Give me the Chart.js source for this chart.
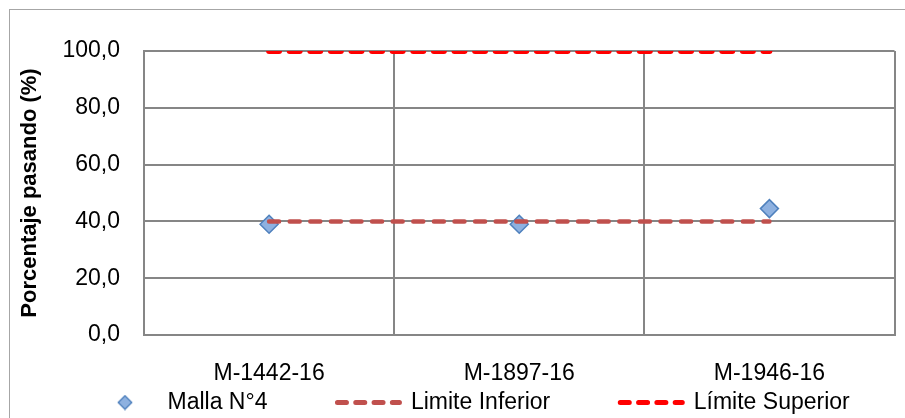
<!DOCTYPE html>
<html lang="es">
<head>
<meta charset="utf-8">
<title>Porcentaje pasando - Malla N°4</title>
<script src="https://cdn.jsdelivr.net/npm/chart.js@4.4.1/dist/chart.umd.min.js"></script>
<style>
  html, body { margin: 0; padding: 0; background: #ffffff; }
  #wrap { width: 905px; height: 418px; }
</style>
</head>
<body>
<div id="wrap"><canvas id="chart" width="905" height="418"></canvas></div>
<script>
// Muestras ensayadas
const categories = ['M-1442-16', 'M-1897-16', 'M-1946-16'];

// Porcentaje que pasa la malla N°4 en cada muestra
const mallaN4 = [39.0, 39.0, 44.5];

// Límites de especificación
const limiteInferior = [40, 40, 40];
const limiteSuperior = [100, 100, 100];

// Marcas del eje vertical
const yTickValues = [0, 20, 40, 60, 80, 100];

const seriesNames = ['Malla N°4', 'Limite Inferior', 'Límite Superior'];

const FONT_FAMILY = "'Liberation Sans', Arial, sans-serif";
const GRID_COLOR = '#868686';
const MARKER_FILL = '#8EB1E0';
const MARKER_EDGE = '#4F81BD';

Chart.defaults.font.family = FONT_FAMILY;
Chart.defaults.color = '#000000';

// Small diamond used as the legend symbol of the marker series
function diamondIcon() {
  const c = document.createElement('canvas');
  c.width = 16; c.height = 16;
  const g = c.getContext('2d');
  g.beginPath();
  g.moveTo(8, 1.2); g.lineTo(14.8, 8); g.lineTo(8, 14.8); g.lineTo(1.2, 8);
  g.closePath();
  g.fillStyle = MARKER_FILL; g.fill();
  g.lineWidth = 1.3; g.strokeStyle = MARKER_EDGE; g.stroke();
  return c;
}
const legendDiamond = diamondIcon();

// Outer frame of the chart object
const framePlugin = {
  id: 'frame',
  beforeDraw(chart) {
    const ctx = chart.ctx;
    ctx.save();
    ctx.strokeStyle = '#a6a6a6';
    ctx.lineWidth = 1;
    ctx.strokeRect(9.5, 9.5, 1000, 1000);
    ctx.restore();
  }
};

// Place the legend row under the category labels
const legendPlacement = {
  id: 'legendPlacement',
  beforeDraw(chart) {
    const lg = chart.legend;
    if (!lg) return;
    const pad = lg.options.labels.padding;
    lg.left = 94 - pad;
    lg.right = 1400;
    lg.top = 391 - pad;
    lg.bottom = 418;
  }
};

const ctx = document.getElementById('chart').getContext('2d');
new Chart(ctx, {
  type: 'line',
  data: {
    labels: categories,
    datasets: [
      {
        label: seriesNames[0],
        data: mallaN4,
        showLine: false,
        pointStyle: 'rectRot',
        pointRadius: 9,
        pointHoverRadius: 9,
        pointBackgroundColor: MARKER_FILL,
        pointBorderColor: MARKER_EDGE,
        pointBorderWidth: 1.5,
        backgroundColor: MARKER_FILL,
        borderColor: MARKER_EDGE,
        borderWidth: 1.5,
        order: 1
      },
      {
        label: seriesNames[1],
        data: limiteInferior,
        borderColor: '#C0504D',
        backgroundColor: '#C0504D',
        borderWidth: 4.5,
        borderDash: [10, 10.6],
        borderCapStyle: 'round',
        pointRadius: 0,
        pointHoverRadius: 0,
        fill: false,
        order: 0
      },
      {
        label: seriesNames[2],
        data: limiteSuperior,
        borderColor: '#FF0000',
        backgroundColor: '#FF0000',
        borderWidth: 6,
        borderDash: [10, 10.6],
        borderCapStyle: 'round',
        pointRadius: 0,
        pointHoverRadius: 0,
        fill: false,
        clip: 0,
        order: 0
      }
    ]
  },
  options: {
    responsive: false,
    animation: false,
    events: [],
    layout: { padding: { left: 10, right: 10, top: 51, bottom: 0 } },
    scales: {
      x: {
        type: 'category',
        offset: true,
        grid: { offset: true, color: GRID_COLOR, lineWidth: 2, drawTicks: false },
        border: { color: GRID_COLOR, width: 2 },
        ticks: { padding: 25, color: '#000', font: { size: 23 }, maxRotation: 0, autoSkip: false },
        afterFit(scale) { scale.height = 53; }
      },
      y: {
        min: 0,
        max: 100,
        grid: { color: GRID_COLOR, lineWidth: 2, drawTicks: false },
        border: { color: GRID_COLOR, width: 2 },
        ticks: {
          padding: 24,
          color: '#000',
          font: { size: 23 },
          callback: (v) => Number(v).toFixed(1).replace('.', ',')
        },
        afterBuildTicks(scale) { scale.ticks = yTickValues.map(v => ({ value: v })); },
        afterFit(scale) { scale.width = 134; },
        title: {
          display: true,
          text: 'Porcentaje pasando (%)',
          color: '#000',
          font: { size: 22, weight: 'bold' },
          padding: { top: 7, bottom: 0 }
        }
      }
    },
    plugins: {
      tooltip: { enabled: false },
      legend: {
        display: true,
        position: 'bottom',
        align: 'start',
        maxHeight: 30,
        labels: {
          usePointStyle: true,
          pointStyleWidth: 62,
          boxHeight: 16,
          padding: 70,
          color: '#000',
          font: { size: 23 },
          generateLabels(chart) {
            const items = Chart.defaults.plugins.legend.labels.generateLabels(chart);
            items.sort((a, b) => a.datasetIndex - b.datasetIndex);
            items.forEach(it => {
              const ds = chart.data.datasets[it.datasetIndex];
              if (ds.showLine === false) {
                it.pointStyle = legendDiamond;
              } else {
                it.pointStyle = 'line';
                it.lineWidth = 5;
                it.lineDash = [9, 9.3];
                it.lineCap = 'round';
                it.strokeStyle = ds.borderColor;
              }
            });
            return items;
          }
        }
      }
    }
  },
  plugins: [framePlugin, legendPlacement]
});
</script>
</body>
</html>
